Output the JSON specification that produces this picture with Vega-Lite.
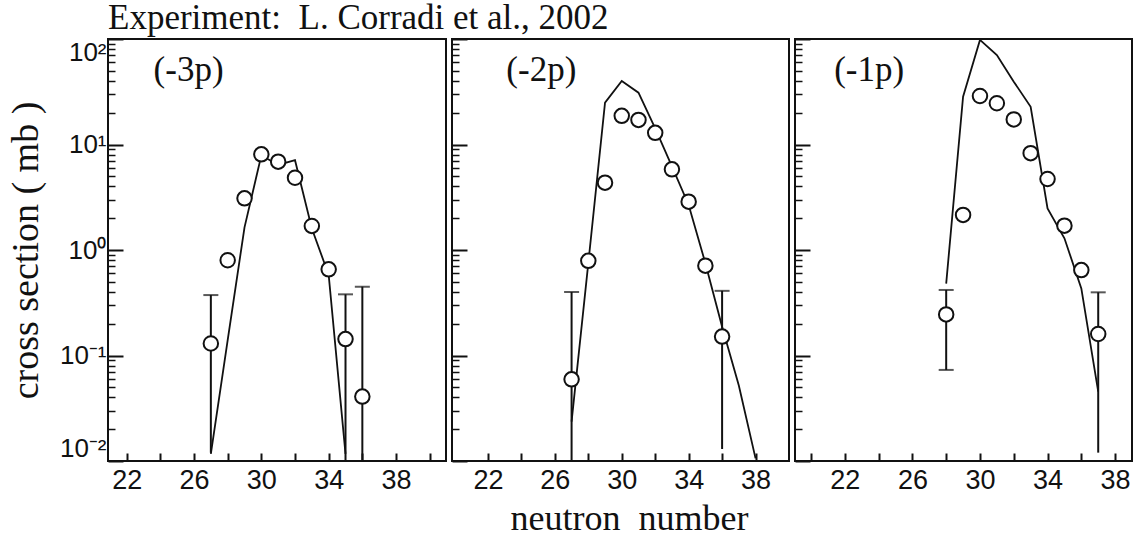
{
  "$schema": "https://vega.github.io/schema/vega-lite/v6.json",
  "padding": {"left": 6, "top": 0, "right": 0, "bottom": 0},
  "background": "white",
  "datasets": {
    "exp": [
      {"panel": "-3p", "N": 27, "cs": 0.13, "hi": 0.374, "lo": 0.012},
      {"panel": "-3p", "N": 28, "cs": 0.80},
      {"panel": "-3p", "N": 29, "cs": 3.09},
      {"panel": "-3p", "N": 30, "cs": 8.07},
      {"panel": "-3p", "N": 31, "cs": 6.87},
      {"panel": "-3p", "N": 32, "cs": 4.84},
      {"panel": "-3p", "N": 33, "cs": 1.69},
      {"panel": "-3p", "N": 34, "cs": 0.656},
      {"panel": "-3p", "N": 35, "cs": 0.143, "hi": 0.38, "lo": 0.01},
      {"panel": "-3p", "N": 36, "cs": 0.0408, "hi": 0.449, "lo": 0.01},
      {"panel": "-2p", "N": 27, "cs": 0.0594, "hi": 0.40, "lo": 0.01},
      {"panel": "-2p", "N": 28, "cs": 0.79},
      {"panel": "-2p", "N": 29, "cs": 4.35},
      {"panel": "-2p", "N": 30, "cs": 18.7},
      {"panel": "-2p", "N": 31, "cs": 17.1},
      {"panel": "-2p", "N": 32, "cs": 12.9},
      {"panel": "-2p", "N": 33, "cs": 5.82},
      {"panel": "-2p", "N": 34, "cs": 2.87},
      {"panel": "-2p", "N": 35, "cs": 0.71},
      {"panel": "-2p", "N": 36, "cs": 0.151, "hi": 0.41, "lo": 0.013},
      {"panel": "-1p", "N": 28, "cs": 0.245, "hi": 0.418, "lo": 0.073, "loCap": 0.073},
      {"panel": "-1p", "N": 29, "cs": 2.15},
      {"panel": "-1p", "N": 30, "cs": 28.8},
      {"panel": "-1p", "N": 31, "cs": 24.6},
      {"panel": "-1p", "N": 32, "cs": 17.3},
      {"panel": "-1p", "N": 33, "cs": 8.27},
      {"panel": "-1p", "N": 34, "cs": 4.71},
      {"panel": "-1p", "N": 35, "cs": 1.70},
      {"panel": "-1p", "N": 36, "cs": 0.645},
      {"panel": "-1p", "N": 37, "cs": 0.16, "hi": 0.397, "lo": 0.012}
    ],
    "theory": [
      {"panel": "-3p", "N": 27, "cs": 0.0117},
      {"panel": "-3p", "N": 28, "cs": 0.14},
      {"panel": "-3p", "N": 29, "cs": 1.64},
      {"panel": "-3p", "N": 30, "cs": 7.9},
      {"panel": "-3p", "N": 31, "cs": 6.4},
      {"panel": "-3p", "N": 32, "cs": 7.1},
      {"panel": "-3p", "N": 33, "cs": 1.6},
      {"panel": "-3p", "N": 34, "cs": 0.58},
      {"panel": "-3p", "N": 35, "cs": 0.0117},
      {"panel": "-2p", "N": 27, "cs": 0.0236},
      {"panel": "-2p", "N": 28, "cs": 0.75},
      {"panel": "-2p", "N": 29, "cs": 24.9},
      {"panel": "-2p", "N": 30, "cs": 40},
      {"panel": "-2p", "N": 31, "cs": 31},
      {"panel": "-2p", "N": 32, "cs": 14.2},
      {"panel": "-2p", "N": 33, "cs": 6.2},
      {"panel": "-2p", "N": 34, "cs": 2.67},
      {"panel": "-2p", "N": 35, "cs": 0.75},
      {"panel": "-2p", "N": 36, "cs": 0.187},
      {"panel": "-2p", "N": 37, "cs": 0.052},
      {"panel": "-2p", "N": 38, "cs": 0.0106},
      {"panel": "-1p", "N": 28, "cs": 0.48},
      {"panel": "-1p", "N": 29, "cs": 28.4},
      {"panel": "-1p", "N": 30, "cs": 98},
      {"panel": "-1p", "N": 31, "cs": 70.5},
      {"panel": "-1p", "N": 32, "cs": 39.4},
      {"panel": "-1p", "N": 33, "cs": 22.8},
      {"panel": "-1p", "N": 34, "cs": 2.48},
      {"panel": "-1p", "N": 35, "cs": 1.29},
      {"panel": "-1p", "N": 36, "cs": 0.433},
      {"panel": "-1p", "N": 37, "cs": 0.0454}
    ]
  },
  "config": {
    "view": {"stroke": "#111", "strokeWidth": 2},
    "axis": {
      "grid": false, "domain": false, "tickColor": "#111", "labelColor": "#111", "zindex": 1,
      "labelOverlap": false, "labelBound": false, "tickCount": 200,
      "labelFont": "Liberation Sans", "labelFontSize": 27,
      "titleFont": "Liberation Serif", "titleFontWeight": "normal", "titleColor": "#111"
    },
    "axisX": {"tickSize": -8, "tickWidth": 2, "tickColor": "#111"},
    "title": {"font": "Liberation Serif", "fontWeight": "normal", "color": "#111"}
  },
  "spacing": 6,
  "bounds": "flush",
  "hconcat": [
    {
      "width": 338, "height": 422,
      "title": {"text": "Experiment:\u00a0 L. Corradi et al., 2002", "anchor": "start", "frame": "group", "fontSize": 35, "offset": 2},
      "resolve": {"axis": {"y": "independent"}},
      "layer": [
        {
          "data": {"name": "theory"},
          "transform": [{"filter": "datum.panel == '-3p'"}],
          "mark": {"type": "line", "color": "#111", "strokeWidth": 1.8, "clip": true},
          "encoding": {
            "x": {"field": "N", "type": "quantitative", "scale": {"domain": [20.89, 40.97], "nice": false, "zero": false},
              "axis": {"values": [22,24,26,28,30,32,34,36,38,40], "tickCount": 200, "format": "d", "labelExpr": "indexof([22,26,30,34,38], datum.value) >= 0 ? datum.label : ''", "ticks": true, "tickSize": -8, "tickWidth": 2, "labelPadding": 14, "title": null}},
            "y": {"field": "cs", "type": "quantitative", "scale": {"type": "log", "domain": [0.01, 100], "nice": false},
              "axis": {"orient": "left", "values": [0.01, 0.1, 1, 10, 100], "tickCount": 200, "tickSize": -15, "tickWidth": 2, "labelPadding": 17, "labelFontSize": 26,
                "labelExpr": "datum.value == 100 ? '10²' : datum.value == 10 ? '10¹' : datum.value == 1 ? '10⁰' : datum.value == 0.1 ? '10⁻¹' : '10⁻²'",
                "labelFlush": true, "title": "cross section ( mb )", "titleFontSize": 38, "titlePadding": 14}}
          }
        },
        {
          "data": {"name": "exp"},
          "transform": [{"filter": "datum.panel == '-3p' && isValid(datum.hi)"}],
          "mark": {"type": "rule", "color": "#111", "strokeWidth": 2},
          "encoding": {
            "x": {"field": "N", "type": "quantitative"},
            "y": {"field": "lo", "type": "quantitative",
              "axis": {"orient": "left", "values": [0.02,0.03,0.04,0.05,0.06,0.07,0.08,0.09,0.2,0.3,0.4,0.5,0.6,0.7,0.8,0.9,2,3,4,5,6,7,8,9,20,30,40,50,60,70,80,90], "tickCount": 200, "tickSize": -7, "tickWidth": 1.5, "labels": false, "title": null}},
            "y2": {"field": "hi"}
          }
        },
        {
          "data": {"name": "exp"},
          "transform": [{"filter": "datum.panel == '-3p' && isValid(datum.hi)"}],
          "mark": {"type": "tick", "orient": "horizontal", "color": "#111", "size": 15, "thickness": 2},
          "encoding": {
            "x": {"field": "N", "type": "quantitative"},
            "y": {"field": "hi", "type": "quantitative", "axis": null}
          }
        },
        {
          "data": {"name": "exp"},
          "transform": [{"filter": "datum.panel == '-3p'"}],
          "mark": {"type": "point", "shape": "circle", "filled": true, "fill": "white", "stroke": "#111", "strokeWidth": 2, "size": 210, "opacity": 1},
          "encoding": {
            "x": {"field": "N", "type": "quantitative"},
            "y": {"field": "cs", "type": "quantitative", "axis": null}
          }
        },
        {
          "data": {"values": [{}]},
          "mark": {"type": "text", "text": "(-3p)", "font": "Liberation Serif", "fontSize": 35, "align": "left", "baseline": "alphabetic", "color": "#111"},
          "encoding": {"x": {"datum": 23.6}, "y": {"datum": 40, "axis": null}}
        }
      ]
    },
    {
      "width": 337, "height": 422,
      "resolve": {"axis": {"y": "independent"}},
      "layer": [
        {
          "data": {"name": "theory"},
          "transform": [{"filter": "datum.panel == '-2p'"}],
          "mark": {"type": "line", "color": "#111", "strokeWidth": 1.8, "clip": true},
          "encoding": {
            "x": {"field": "N", "type": "quantitative", "scale": {"domain": [19.85, 40], "nice": false, "zero": false},
              "axis": {"values": [22,24,26,28,30,32,34,36,38], "tickCount": 200, "format": "d", "labelExpr": "indexof([22,26,30,34,38], datum.value) >= 0 ? datum.label : ''", "ticks": true, "tickSize": -8, "tickWidth": 2, "labelPadding": 14, "title": "neutron\u00a0\u00a0number", "titleFontSize": 36, "titlePadding": 8, "titleX": 177}},
            "y": {"field": "cs", "type": "quantitative", "scale": {"type": "log", "domain": [0.01, 100], "nice": false},
              "axis": {"orient": "left", "values": [0.01, 0.1, 1, 10, 100], "tickCount": 200, "tickSize": -15, "tickWidth": 2, "labels": false, "title": null}}
          }
        },
        {
          "data": {"name": "exp"},
          "transform": [{"filter": "datum.panel == '-2p' && isValid(datum.hi)"}],
          "mark": {"type": "rule", "color": "#111", "strokeWidth": 2},
          "encoding": {
            "x": {"field": "N", "type": "quantitative"},
            "y": {"field": "lo", "type": "quantitative",
              "axis": {"orient": "left", "values": [0.02,0.03,0.04,0.05,0.06,0.07,0.08,0.09,0.2,0.3,0.4,0.5,0.6,0.7,0.8,0.9,2,3,4,5,6,7,8,9,20,30,40,50,60,70,80,90], "tickCount": 200, "tickSize": -7, "tickWidth": 1.5, "labels": false, "title": null}},
            "y2": {"field": "hi"}
          }
        },
        {
          "data": {"name": "exp"},
          "transform": [{"filter": "datum.panel == '-2p' && isValid(datum.hi)"}],
          "mark": {"type": "tick", "orient": "horizontal", "color": "#111", "size": 15, "thickness": 2},
          "encoding": {
            "x": {"field": "N", "type": "quantitative"},
            "y": {"field": "hi", "type": "quantitative", "axis": null}
          }
        },
        {
          "data": {"name": "exp"},
          "transform": [{"filter": "datum.panel == '-2p'"}],
          "mark": {"type": "point", "shape": "circle", "filled": true, "fill": "white", "stroke": "#111", "strokeWidth": 2, "size": 210, "opacity": 1},
          "encoding": {
            "x": {"field": "N", "type": "quantitative"},
            "y": {"field": "cs", "type": "quantitative", "axis": null}
          }
        },
        {
          "data": {"values": [{}]},
          "mark": {"type": "text", "text": "(-2p)", "font": "Liberation Serif", "fontSize": 35, "align": "left", "baseline": "alphabetic", "color": "#111"},
          "encoding": {"x": {"datum": 23.1}, "y": {"datum": 40, "axis": null}}
        }
      ]
    },
    {
      "width": 337, "height": 422,
      "resolve": {"axis": {"y": "independent"}},
      "layer": [
        {
          "data": {"name": "theory"},
          "transform": [{"filter": "datum.panel == '-1p'"}],
          "mark": {"type": "line", "color": "#111", "strokeWidth": 1.8, "clip": true},
          "encoding": {
            "x": {"field": "N", "type": "quantitative", "scale": {"domain": [19.05, 39.0], "nice": false, "zero": false},
              "axis": {"values": [20,22,24,26,28,30,32,34,36,38], "tickCount": 200, "format": "d", "labelExpr": "indexof([22,26,30,34,38], datum.value) >= 0 ? datum.label : ''", "ticks": true, "tickSize": -8, "tickWidth": 2, "labelPadding": 14, "title": null}},
            "y": {"field": "cs", "type": "quantitative", "scale": {"type": "log", "domain": [0.01, 100], "nice": false},
              "axis": {"orient": "left", "values": [0.01, 0.1, 1, 10, 100], "tickCount": 200, "tickSize": -15, "tickWidth": 2, "labels": false, "title": null}}
          }
        },
        {
          "data": {"name": "exp"},
          "transform": [{"filter": "datum.panel == '-1p' && isValid(datum.hi)"}],
          "mark": {"type": "rule", "color": "#111", "strokeWidth": 2},
          "encoding": {
            "x": {"field": "N", "type": "quantitative"},
            "y": {"field": "lo", "type": "quantitative",
              "axis": {"orient": "left", "values": [0.02,0.03,0.04,0.05,0.06,0.07,0.08,0.09,0.2,0.3,0.4,0.5,0.6,0.7,0.8,0.9,2,3,4,5,6,7,8,9,20,30,40,50,60,70,80,90], "tickCount": 200, "tickSize": -7, "tickWidth": 1.5, "labels": false, "title": null}},
            "y2": {"field": "hi"}
          }
        },
        {
          "data": {"name": "exp"},
          "transform": [{"filter": "datum.panel == '-1p' && isValid(datum.hi)"}],
          "mark": {"type": "tick", "orient": "horizontal", "color": "#111", "size": 15, "thickness": 2},
          "encoding": {
            "x": {"field": "N", "type": "quantitative"},
            "y": {"field": "hi", "type": "quantitative", "axis": null}
          }
        },
        {
          "data": {"name": "exp"},
          "transform": [{"filter": "datum.panel == '-1p' && isValid(datum.loCap)"}],
          "mark": {"type": "tick", "orient": "horizontal", "color": "#111", "size": 15, "thickness": 2},
          "encoding": {
            "x": {"field": "N", "type": "quantitative"},
            "y": {"field": "loCap", "type": "quantitative", "axis": null}
          }
        },
        {
          "data": {"name": "exp"},
          "transform": [{"filter": "datum.panel == '-1p'"}],
          "mark": {"type": "point", "shape": "circle", "filled": true, "fill": "white", "stroke": "#111", "strokeWidth": 2, "size": 210, "opacity": 1},
          "encoding": {
            "x": {"field": "N", "type": "quantitative"},
            "y": {"field": "cs", "type": "quantitative", "axis": null}
          }
        },
        {
          "data": {"values": [{}]},
          "mark": {"type": "text", "text": "(-1p)", "font": "Liberation Serif", "fontSize": 35, "align": "left", "baseline": "alphabetic", "color": "#111"},
          "encoding": {"x": {"datum": 21.37}, "y": {"datum": 40, "axis": null}}
        }
      ]
    }
  ]
}
